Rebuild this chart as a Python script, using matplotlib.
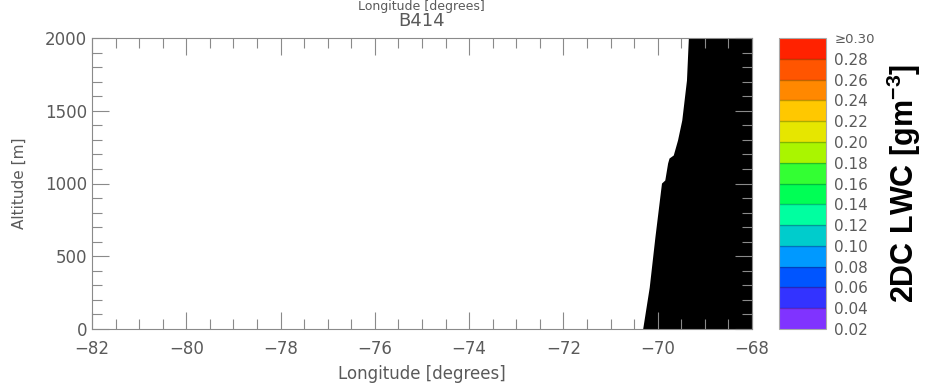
import numpy as np
import matplotlib
matplotlib.use("Agg")
import matplotlib.pyplot as plt
import matplotlib.colors as mcolors
from matplotlib.ticker import MultipleLocator

# Edge of the black (cloud-free / no-data) region
edge_alt = [0, 288, 632, 1003, 1024, 1141, 1175, 1196, 1299, 1436, 1711, 2000]
edge_lon = [-70.32, -70.18, -70.06, -69.92, -69.85, -69.79, -69.76, -69.67,
            -69.58, -69.49, -69.39, -69.35]

# Colour bar levels and colours (bottom to top)
lwc_levels = [0.02, 0.04, 0.06, 0.08, 0.10, 0.12, 0.14, 0.16, 0.18, 0.20,
              0.22, 0.24, 0.26, 0.28, 0.30]
lwc_colors = ['#8033ff', '#3333ff', '#0055ff', '#0099ff', '#00cccc', '#00ffa0',
              '#00ff55', '#33ff33', '#aaf500', '#e6e600', '#ffc800', '#ff8800',
              '#ff5500', '#ff2200']
lwc_labels = ['0.02', '0.04', '0.06', '0.08', '0.10', '0.12', '0.14', '0.16',
              '0.18', '0.20', '0.22', '0.24', '0.26', '0.28', '≥0.30']

grey = '#5a5a5a'
spine = '#8a8a8a'

# bold Arial-like face for the colour bar label, superscript included
plt.rcParams['mathtext.fontset'] = 'custom'
plt.rcParams['mathtext.rm'] = 'Liberation Sans:bold'
plt.rcParams['mathtext.it'] = 'Liberation Sans:bold'
plt.rcParams['mathtext.bf'] = 'Liberation Sans:bold'

fig = plt.figure(figsize=(9.25, 3.84), dpi=100)
ax = fig.add_axes([92 / 925, 1 - 329 / 384, 660 / 925, 291 / 384])

ax.fill_betweenx(edge_alt, edge_lon, -68, color='black', linewidth=0)
ax.set_xlim(-82, -68)
ax.set_ylim(0, 2000)
ax.xaxis.set_major_locator(MultipleLocator(2))
ax.xaxis.set_minor_locator(MultipleLocator(0.5))
ax.yaxis.set_major_locator(MultipleLocator(500))
ax.yaxis.set_minor_locator(MultipleLocator(100))
ax.tick_params(which='both', direction='in', top=True, right=True,
               color=spine, labelcolor=grey, labelsize=12)
ax.tick_params(which='major', length=12, width=0.8)
ax.tick_params(which='minor', length=7, width=0.8)
ax.tick_params(axis='x', pad=8)
for s in ax.spines.values():
    s.set_color(spine)
    s.set_linewidth(0.8)
ax.set_xlabel('Longitude [degrees]', color=grey, fontsize=12, labelpad=5)
ax.set_ylabel('Altitude [m]', color=grey, fontsize=11, labelpad=13)
ax.set_title('B414', color=grey, fontsize=13, pad=9)

# label of the panel above, at the very top edge
fig.text(0.455, 1.0, 'Longitude [degrees]', color=grey, fontsize=9,
         ha='center', va='top')

cax = fig.add_axes([779 / 925, 1 - 329 / 384, 47 / 925, 291 / 384])
cmap = mcolors.ListedColormap(lwc_colors)
norm = mcolors.BoundaryNorm(lwc_levels, cmap.N)
cb = matplotlib.colorbar.ColorbarBase(cax, cmap=cmap, norm=norm,
                                      boundaries=lwc_levels, ticks=lwc_levels,
                                      drawedges=True)
cb.dividers.set_color((0, 0, 0, 0.25))
cb.dividers.set_linewidth(1.0)
cb.outline.set_edgecolor('#aaaaaa')
cb.outline.set_linewidth(0.8)
cb.set_ticklabels(lwc_labels)
cax.tick_params(length=0, labelcolor=grey, labelsize=11, pad=6)
cax.get_yticklabels()[-1].set_fontsize(9.5)
cb.set_label('2DC LWC [gm$^{-3}$]', fontsize=22, fontweight='bold',
             family='Liberation Sans', color='black', labelpad=7)

fig.savefig('out.png', dpi=100)
